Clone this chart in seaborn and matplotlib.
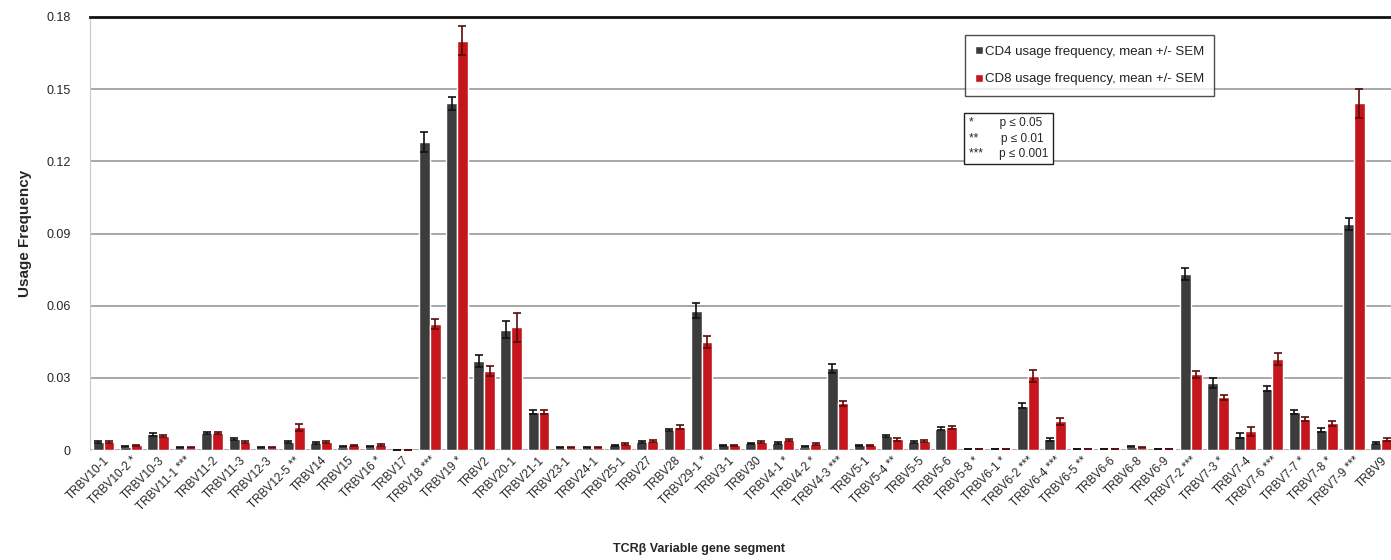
import numpy as np
import pandas as pd
import matplotlib
matplotlib.use("Agg")
import matplotlib.pyplot as plt
import seaborn as sns

# TCRb V gene segments (x axis), stars = significance CD4 vs CD8
segments = [
    "TRBV10-1", "TRBV10-2 *", "TRBV10-3", "TRBV11-1 ***", "TRBV11-2", "TRBV11-3",
    "TRBV12-3", "TRBV12-5 **", "TRBV14", "TRBV15", "TRBV16 *", "TRBV17",
    "TRBV18 ***", "TRBV19 *", "TRBV2", "TRBV20-1", "TRBV21-1", "TRBV23-1",
    "TRBV24-1", "TRBV25-1", "TRBV27", "TRBV28", "TRBV29-1 *", "TRBV3-1",
    "TRBV30", "TRBV4-1 *", "TRBV4-2 *", "TRBV4-3 ***", "TRBV5-1", "TRBV5-4 **",
    "TRBV5-5", "TRBV5-6", "TRBV5-8 *", "TRBV6-1 *", "TRBV6-2 ***", "TRBV6-4 ***",
    "TRBV6-5 **", "TRBV6-6", "TRBV6-8", "TRBV6-9", "TRBV7-2 ***", "TRBV7-3 *",
    "TRBV7-4", "TRBV7-6 ***", "TRBV7-7 *", "TRBV7-8 *", "TRBV7-9 ***", "TRBV9",
]

cd4_mean = [
    0.0035, 0.0015, 0.0066, 0.0010, 0.0070, 0.0045, 0.0010, 0.0035, 0.0030, 0.0015,
    0.0015, 0.0002, 0.1280, 0.1440, 0.0370, 0.0500, 0.0160, 0.0010, 0.0010, 0.0020,
    0.0035, 0.0083, 0.0580, 0.0020, 0.0028, 0.0030, 0.0015, 0.0340, 0.0020, 0.0060,
    0.0035, 0.0090, 0.0005, 0.0005, 0.0185, 0.0045, 0.0005, 0.0005, 0.0015, 0.0005,
    0.0730, 0.0280, 0.0060, 0.0255, 0.0160, 0.0083, 0.0940, 0.0030,
]
cd8_mean = [
    0.0035, 0.0020, 0.0060, 0.0010, 0.0070, 0.0035, 0.0010, 0.0095, 0.0035, 0.0020,
    0.0022, 0.0002, 0.0525, 0.1700, 0.0330, 0.0510, 0.0160, 0.0010, 0.0010, 0.0025,
    0.0040, 0.0095, 0.0450, 0.0020, 0.0035, 0.0042, 0.0025, 0.0195, 0.0020, 0.0045,
    0.0040, 0.0095, 0.0005, 0.0005, 0.0310, 0.0120, 0.0005, 0.0005, 0.0010, 0.0005,
    0.0315, 0.0220, 0.0078, 0.0380, 0.0130, 0.0112, 0.1440, 0.0045,
]
cd4_sem = [
    0.0003, 0.0003, 0.0005, 0.0002, 0.0004, 0.0004, 0.0002, 0.0004, 0.0003, 0.0002,
    0.0002, 0.0001, 0.0040, 0.0025, 0.0025, 0.0035, 0.0008, 0.0002, 0.0002, 0.0003,
    0.0003, 0.0005, 0.0030, 0.0003, 0.0003, 0.0003, 0.0003, 0.0020, 0.0003, 0.0005,
    0.0004, 0.0005, 0.0001, 0.0001, 0.0010, 0.0005, 0.0001, 0.0001, 0.0002, 0.0001,
    0.0025, 0.0020, 0.0010, 0.0010, 0.0008, 0.0008, 0.0025, 0.0003,
]
cd8_sem = [
    0.0003, 0.0003, 0.0005, 0.0002, 0.0004, 0.0004, 0.0002, 0.0015, 0.0003, 0.0002,
    0.0003, 0.0001, 0.0020, 0.0060, 0.0020, 0.0060, 0.0008, 0.0002, 0.0002, 0.0003,
    0.0004, 0.0008, 0.0025, 0.0003, 0.0004, 0.0004, 0.0004, 0.0010, 0.0003, 0.0005,
    0.0004, 0.0006, 0.0001, 0.0001, 0.0025, 0.0015, 0.0001, 0.0001, 0.0002, 0.0001,
    0.0015, 0.0010, 0.0020, 0.0025, 0.0008, 0.0010, 0.0060, 0.0005,
]

series_names = ["CD4 usage frequency, mean +/- SEM", "CD8 usage frequency, mean +/- SEM"]
y_ticks = [0, 0.03, 0.06, 0.09, 0.12, 0.15, 0.18]
y_tick_labels = ["0", "0.03", "0.06", "0.09", "0.12", "0.15", "0.18"]
p_symbols = ["*", "**", "***"]
p_labels = ["p \u2264 0.05", "p \u2264 0.01", "p \u2264 0.001"]

df = pd.DataFrame({
    "segment": segments * 2,
    "freq": cd4_mean + cd8_mean,
    "group": [series_names[0]] * len(segments) + [series_names[1]] * len(segments),
})

sns.set_style("white")
plt.rcParams["font.family"] = ["Liberation Sans", "DejaVu Sans"]

fig = plt.figure(figsize=(13.91, 5.6), dpi=100)
ax = fig.add_axes([0.0647, 0.196, 0.938, 0.774])

palette = {series_names[0]: "#3c3c3c", series_names[1]: "#c4161c"}
sns.barplot(data=df, x="segment", y="freq", hue="group", palette=palette,
            errorbar=None, width=0.8, saturation=1, ax=ax, zorder=2)

# SEM error bars on each bar
for container, errs, col in zip(ax.containers, [cd4_sem, cd8_sem], ["#111111", "#5a0a0a"]):
    xs = [b.get_x() + b.get_width() / 2 for b in container]
    ys = [b.get_height() for b in container]
    ax.errorbar(xs, ys, yerr=errs, fmt="none", ecolor=col, elinewidth=1.2,
                capsize=3, capthick=1.2, zorder=3)

ax.set_ylim(0, 0.18)
ax.set_xlim(-0.5, len(segments) - 0.5)
ax.set_yticks(y_ticks)
ax.set_yticklabels(y_tick_labels, fontsize=9)
ax.yaxis.grid(True, color="#9a9a9a", linewidth=1.2, zorder=0)
ax.set_axisbelow(True)
for s in ["right", "bottom"]:
    ax.spines[s].set_visible(False)
ax.spines["left"].set_color("#c8c8c8")
ax.spines["top"].set_color("#111111")
ax.spines["top"].set_linewidth(2)
ax.tick_params(axis="y", length=0, pad=14)
ax.tick_params(axis="x", length=0, pad=3)
ax.set_xticks(range(len(segments)))
ax.set_xticklabels(segments, rotation=45, ha="right", rotation_mode="anchor", fontsize=8.5)

ax.set_ylabel("Usage Frequency", fontsize=11, fontweight="bold", labelpad=10)
ax.set_xlabel("TCR\u03b2 Variable gene segment", fontsize=9, fontweight="bold")
ax.xaxis.set_label_coords(0.467, -0.215)

leg = ax.legend(loc="upper left", bbox_to_anchor=(0.6705, 0.958), frameon=True,
                fancybox=False, edgecolor="#222222", fontsize=9.5, handlelength=0.6,
                handleheight=0.6, handletextpad=0.1, labelspacing=1.2,
                borderpad=0.8, borderaxespad=0)
leg.get_frame().set_linewidth(1.0)
for t in leg.get_texts():
    t.set_color("#222222")

# significance key
key = "\n".join(f"{s:<5}{p:>12}" for s, p in zip(p_symbols, p_labels))
ax.text(0.6735, 0.768, key, transform=ax.transAxes, fontsize=8.5, va="top", ha="left",
        linespacing=1.35,
        bbox=dict(boxstyle="square,pad=0.4", facecolor="white", edgecolor="#222222"))

fig.savefig("out.png", dpi=100)
